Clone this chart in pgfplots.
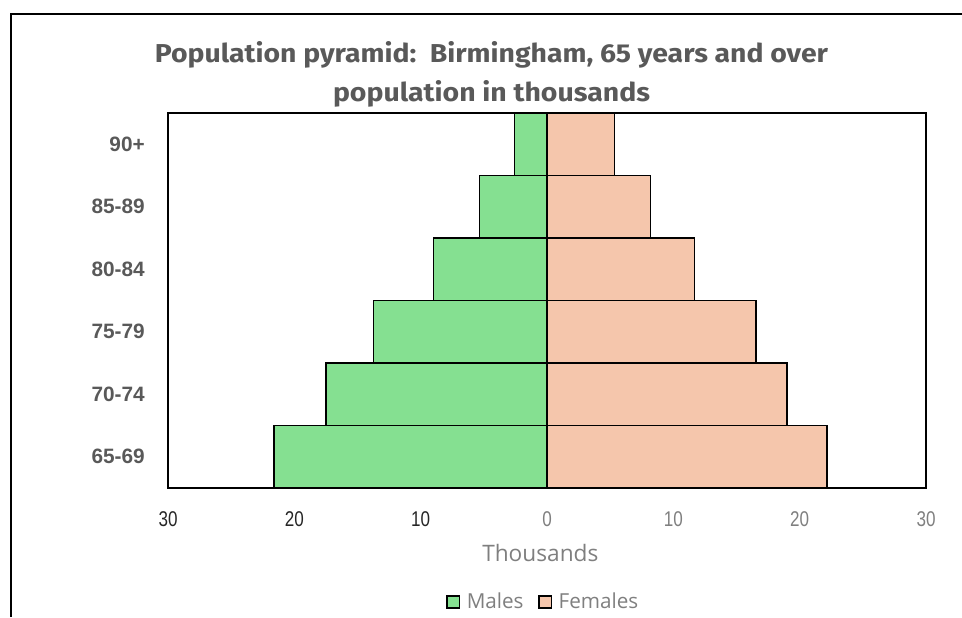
\documentclass[border=0pt]{standalone}
\usepackage{fontspec}
\setmainfont{Liberation Sans}
\newfontfamily\titlefont{Fira Sans}
\newfontfamily\narrowfont[FakeStretch=0.8]{Liberation Sans}
\newfontfamily\labelfont{Open Sans}
\usepackage{graphicx}
\usepackage{pgfplots}
\usepackage{pgfplotstable}
\pgfplotsset{compat=1.18}

\definecolor{malegreen}{HTML}{85E091}
\definecolor{femalepeach}{HTML}{F5C6AC}
\definecolor{txtgray}{HTML}{595959}
\definecolor{lblgray}{HTML}{7F7F7F}
\definecolor{darktick}{HTML}{262626}

% males stored negative so they grow to the left
\pgfplotstableread{
age males females
0 -21.6 22.15
1 -17.5 18.98
2 -13.75 16.55
3 -9.0 11.66
4 -5.36 8.2
5 -2.59 5.36
}\pyramid

\begin{document}
\begin{tikzpicture}[x=0.75pt,y=0.75pt]
\useasboundingbox (0,0) rectangle (962,617);
\draw[line width=1.5pt] (11,0) -- (11,603) -- (962,603);

\node[anchor=base,inner sep=0pt,text=txtgray] at (491.5,554)
  {\resizebox{504.75pt}{15.75pt}{\titlefont\bfseries Population pyramid:\ \ Birmingham, 65 years and over}};
\node[anchor=base,inner sep=0pt,text=txtgray] at (491.5,515)
  {\resizebox{237.75pt}{15.75pt}{\titlefont\bfseries population in thousands}};

\begin{axis}[
    at={(126pt,96.75pt)}, anchor=south west,
    scale only axis,
    width=568.5pt, height=281.25pt,
    xmin=-30, xmax=30,
    ymin=-0.5, ymax=5.5,
    axis line style={line width=1.1pt},
    axis on top,
    major tick length=0pt,
    ytick={0,...,5},
    yticklabels={65-69,70-74,75-79,80-84,85-89,90+},
    yticklabel style={anchor=east, inner sep=0pt, xshift=-17.25pt,
        font=\fontsize{15.6pt}{17pt}\selectfont\bfseries, text=txtgray},
    xtick={-30,-20,-10,0,10,20,30},
    xticklabels={\textcolor{darktick}{30},\textcolor{darktick}{20},\textcolor{darktick}{10},0,10,20,30},
    xticklabel style={anchor=center, inner sep=0pt, yshift=-23.25pt,
        font=\narrowfont\fontsize{16pt}{18pt}\selectfont, text=lblgray},
    xlabel={Thousands},
    xlabel style={at={(axis description cs:0.5,0)}, anchor=center,
        yshift=-48.75pt, xshift=-5pt, inner sep=0pt,
        font=\labelfont\fontsize{17pt}{19pt}\selectfont, text=lblgray},
    legend columns=2,
    legend style={at={(axis description cs:0.5,0)}, anchor=center,
        yshift=-85.5pt, xshift=-2.5pt, draw=none, fill=none,
        font=\labelfont\fontsize{15.5pt}{17pt}\selectfont, text=lblgray,
        /tikz/every odd column/.append style={column sep=3pt},
        /tikz/every even column/.append style={column sep=9pt}},
    legend cell align=left,
    legend image code/.code={\draw[#1, line width=1.1pt] (0pt,-4.6pt) rectangle (9.2pt,4.6pt);},
]
\addplot[xbar, bar width=1, bar shift=0pt, fill=malegreen, draw=black, line width=1.1pt]
    table[x=males, y=age] {\pyramid};
\addlegendentry{Males}
\addplot[xbar, bar width=1, bar shift=0pt, fill=femalepeach, draw=black, line width=1.1pt]
    table[x=females, y=age] {\pyramid};
\addlegendentry{Females}
\end{axis}
\end{tikzpicture}
\end{document}
